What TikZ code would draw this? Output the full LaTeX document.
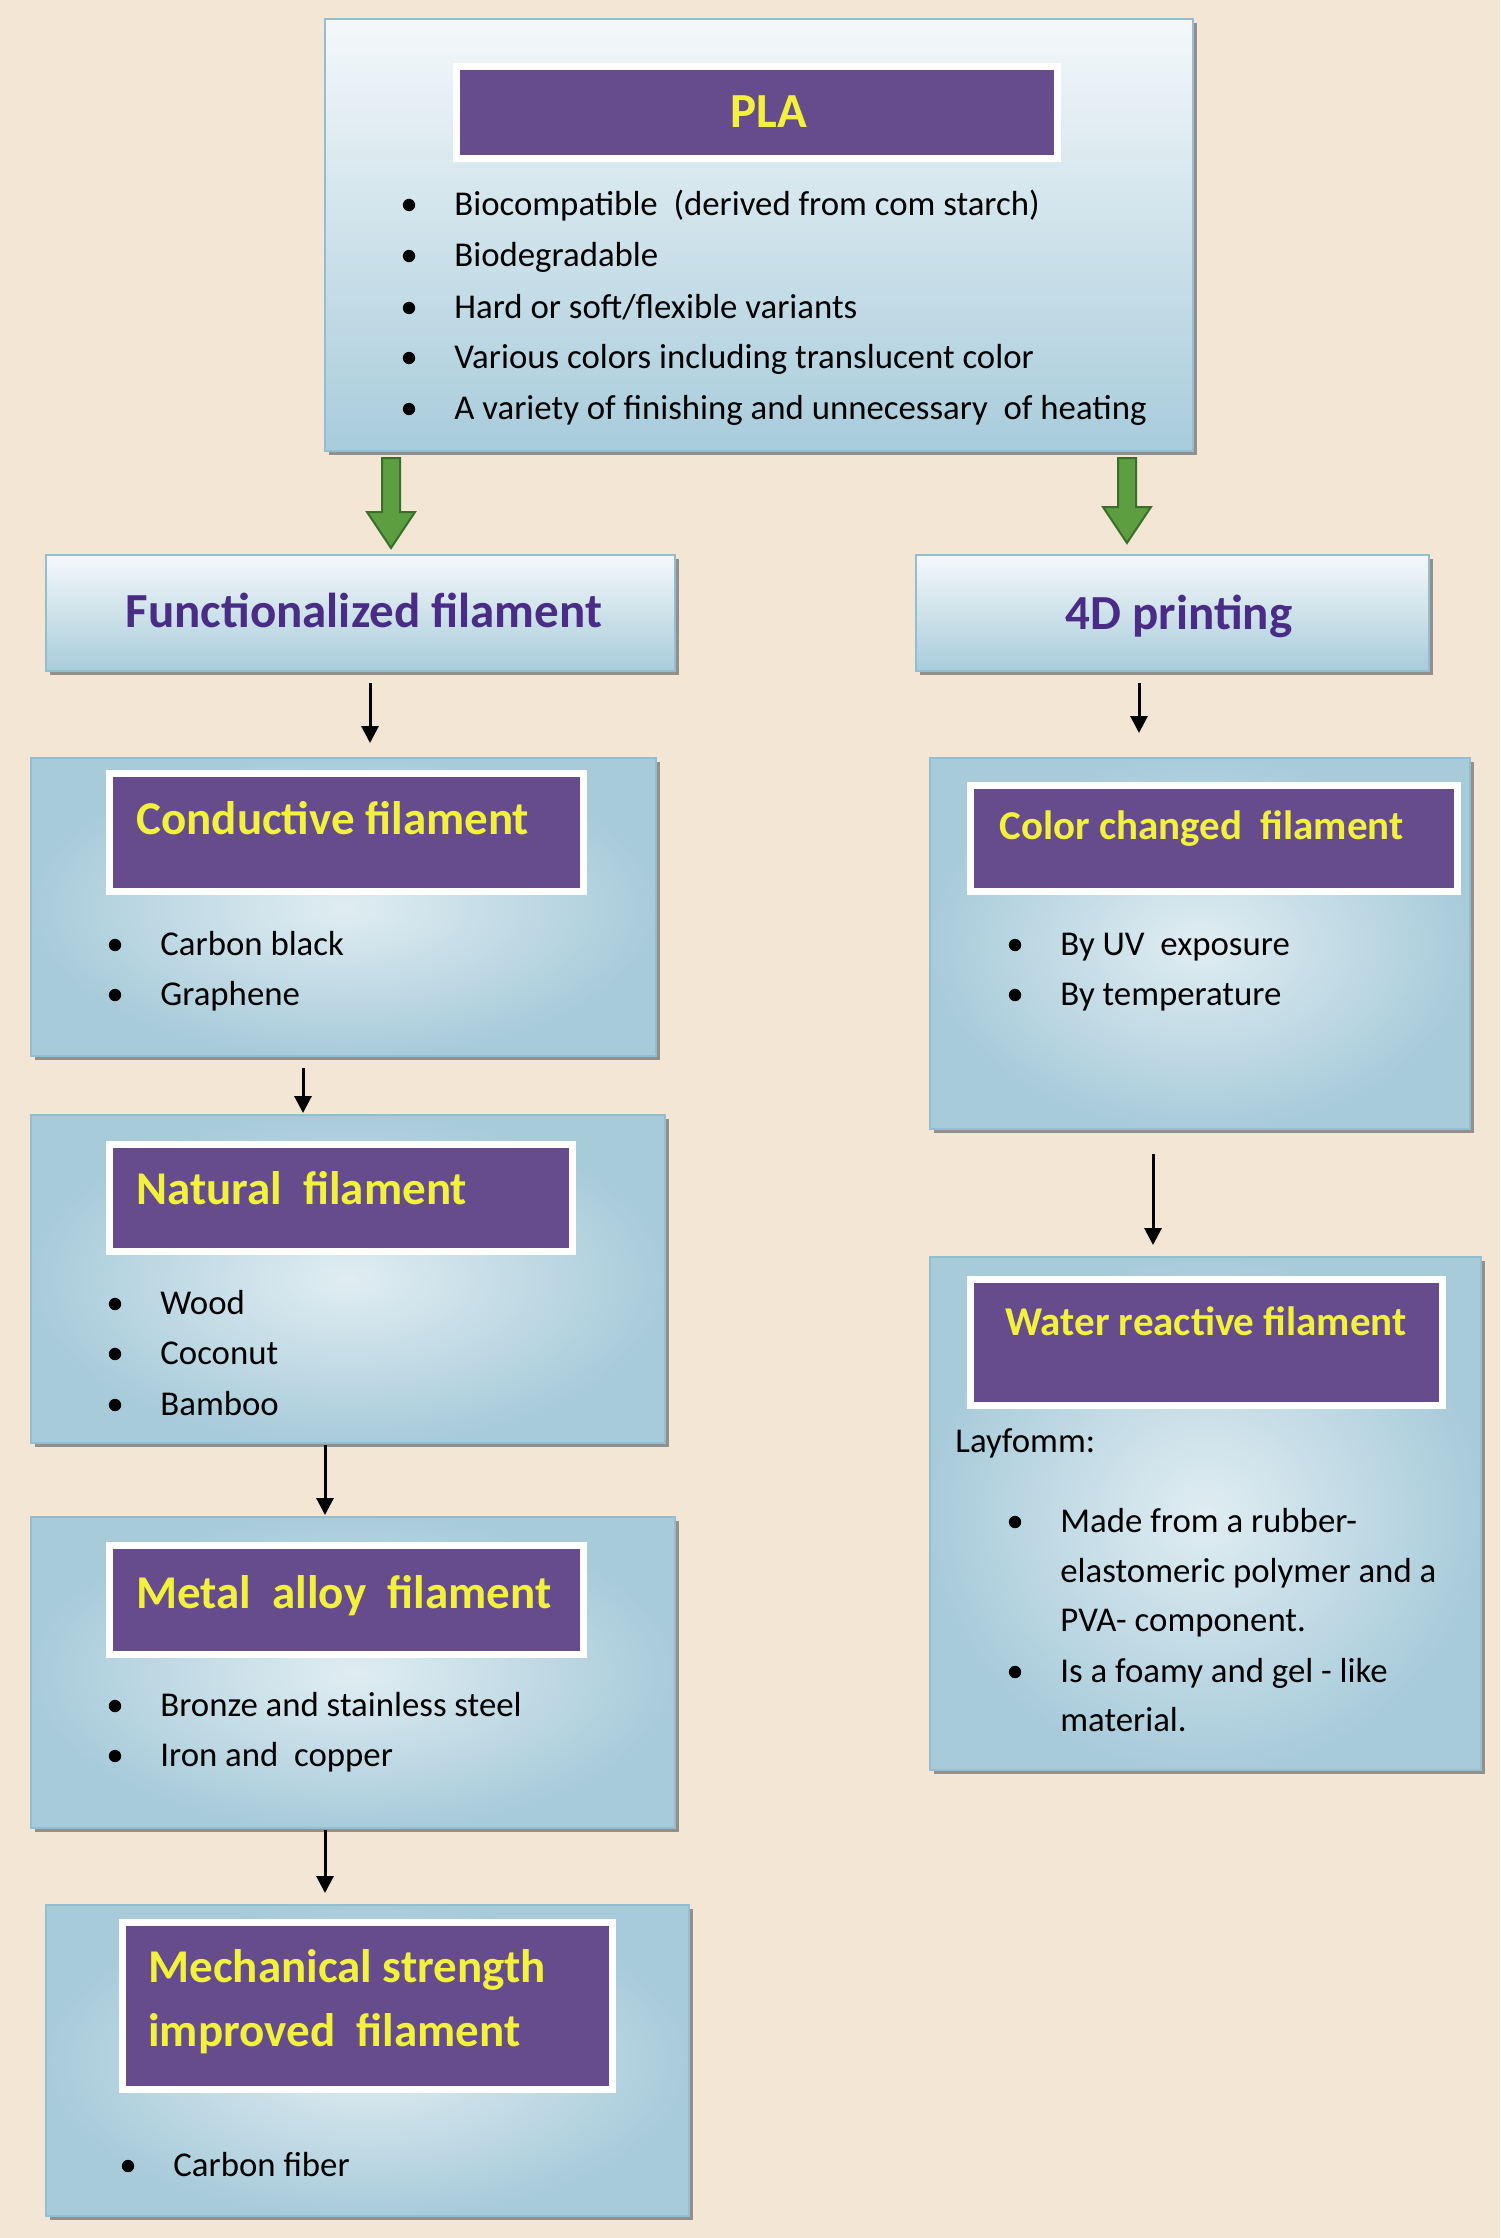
\documentclass[tikz,border=0pt]{standalone}
\usepackage{fontspec}
\setmainfont{Carlito}
\usetikzlibrary{arrows.meta,calc,fit,shadows}
\definecolor{bgc}{HTML}{F3E6D5}
\definecolor{barpurple}{HTML}{664C8D}
\definecolor{ytext}{HTML}{F2F23C}
\definecolor{ptext}{HTML}{4A2C86}
\definecolor{boxedge}{HTML}{93BDD0}
\definecolor{boxtop}{HTML}{F4F8FA}
\definecolor{boxbot}{HTML}{A8CCDB}
\definecolor{boxin}{HTML}{E0EDF2}
\definecolor{boxout}{HTML}{A8CBDA}
\definecolor{gfill}{HTML}{5C9E40}
\definecolor{gedge}{HTML}{3A6E2B}
\newcommand\bitem[4]{%
  \fill (#2-45,#3-10) circle[radius=3.1pt];
  \node[btext] (#1) at (#2,#3) {#4};}
\newcommand\greenarrow[2]{%
  \filldraw[fill=gfill, draw=gedge, line width=1pt, line join=miter]
    ($(#1)+(-9,0)$) -- ($(#2)+(-9,-36)$) -- ($(#2)+(-24,-36)$) -- (#2)
    -- ($(#2)+(24,-36)$) -- ($(#2)+(9,-36)$) -- ($(#1)+(9,0)$) -- cycle;}
\begin{document}
\begin{tikzpicture}[x=0.5pt,y=-0.5pt,
  outerbox/.style={draw=boxedge, line width=1pt, top color=boxtop, bottom color=boxbot,
    inner sep=0pt, drop shadow={shadow xshift=1.8pt, shadow yshift=-1.8pt, opacity=0.75, fill=black!55}},
  subbox/.style={draw=boxedge, line width=1pt, inner color=boxin, outer color=boxout,
    inner sep=0pt, drop shadow={shadow xshift=1.8pt, shadow yshift=-1.8pt, opacity=0.75, fill=black!55}},
  titlebar/.style={fill=barpurple, draw=white, line width=3.5pt, inner sep=0pt,
    drop shadow={shadow xshift=1.8pt, shadow yshift=-1.8pt, opacity=0.6, fill=black!60}},
  btext/.style={anchor=base west, inner sep=0pt, font=\fontsize{17.4}{20}\selectfont},
  ytitle/.style={inner sep=0pt, text=ytext, font=\bfseries\fontsize{23.5}{26}\selectfont},
  ptitle/.style={inner sep=0pt, text=ptext, anchor=base, font=\bfseries\fontsize{24.5}{27}\selectfont},
  barrow/.style={line width=1.5pt, -{Triangle[length=8.5pt,width=8.5pt]}}
]
\fill[bgc] (0,0) rectangle (1500,2238);
\useasboundingbox (0,0) rectangle (1500,2238);

% ---------- PLA ----------
\node[outerbox, fit={(325,19)(1193,451)}] (pla) {};
\node[titlebar, fit={(456,66)(1057,158)}] (plabar) {};
\node[ytitle, anchor=base, font=\bfseries\fontsize{24.5}{27}\selectfont] (platitle) at (769,127) {PLA};
\bitem{pla1}{454}{215}{Biocompatible\ \ (derived from com starch)}
\bitem{pla2}{454}{266}{Biodegradable}
\bitem{pla3}{454}{318}{Hard or soft/flexible variants}
\bitem{pla4}{454}{368}{Various colors including translucent color}
\bitem{pla5}{454}{419}{A variety of finishing and unnecessary\ \ of heating}

% ---------- second level ----------
\node[outerbox, fit={(46,555)(675,671)}] (func) {};
\node[ptitle] (functext) at (364,627) {Functionalized filament};
\node[outerbox, fit={(916,555)(1429,671)}] (fourd) {};
\node[ptitle] (fourdtext) at (1179,629) {4D printing};

\coordinate (xg1) at (391,0);
\coordinate (xg2) at (1127,0);
\coordinate (g1s) at ($(pla.south -| xg1)+(0,6)$);
\coordinate (g1e) at ($(func.north -| xg1)+(0,-6)$);
\coordinate (g2s) at ($(pla.south -| xg2)+(0,6)$);
\coordinate (g2e) at ($(fourd.north -| xg2)+(0,-11)$);
\greenarrow{g1s}{g1e}
\greenarrow{g2s}{g2e}

% ---------- left column ----------
\node[subbox, fit={(31,758)(656,1056)}] (cond) {};
\node[titlebar, fit={(109,773)(583,891)}] (condbar) {};
\node[ytitle, anchor=base west] (condtitle) at (136,834) {Conductive filament};
\bitem{cond1}{160}{955}{Carbon black}
\bitem{cond2}{160}{1005}{Graphene}

\node[subbox, fit={(31,1115)(665,1443)}] (nat) {};
\node[titlebar, fit={(109,1144)(572,1251)}] (natbar) {};
\node[ytitle, anchor=base west] (nattitle) at (136,1204) {Natural\ \ filament};
\bitem{nat1}{160}{1314}{Wood}
\bitem{nat2}{160}{1364}{Coconut}
\bitem{nat3}{160}{1415}{Bamboo}

\node[subbox, fit={(31,1517)(675,1828)}] (metal) {};
\node[titlebar, fit={(109,1545)(583,1654)}] (metalbar) {};
\node[ytitle, anchor=base west] (metaltitle) at (136,1608) {Metal\ \ alloy\ \ filament};
\bitem{metal1}{160}{1716}{Bronze and stainless steel}
\bitem{metal2}{160}{1766}{Iron and\ \ copper}

\node[subbox, fit={(46,1905)(689,2216)}] (mech) {};
\node[titlebar, fit={(122,1922)(612,2089)}] (mechbar) {};
\node[ytitle, anchor=base west] (mechtitle1) at (148,1982) {Mechanical strength};
\node[ytitle, anchor=base west] (mechtitle2) at (148,2046) {improved\ \ filament};
\bitem{mech1}{173}{2176}{Carbon fiber}

% ---------- right column ----------
\node[subbox, fit={(930,758)(1470,1129)}] (color) {};
\node[titlebar, fit={(970,785)(1457,891)}] (colorbar) {};
\node[ytitle, anchor=base west, font=\bfseries\fontsize{20.5}{23}\selectfont] (colortitle) at (999,839) {Color changed\ \ filament};
\bitem{color1}{1060}{955}{By UV\ \ exposure}
\bitem{color2}{1060}{1005}{By temperature}

\node[subbox, fit={(930,1257)(1481,1770)}] (water) {};
\node[titlebar, fit={(970,1279)(1442,1405)}] (waterbar) {};
\node[ytitle, anchor=base, font=\bfseries\fontsize{20.5}{23}\selectfont] (watertitle) at (1206,1335) {Water reactive filament};
\node[btext] (lay) at (955,1452) {Layfomm:};
\bitem{water1}{1060}{1532}{Made from a rubber-}
\node[btext] (water1b) at (1060,1582) {elastomeric polymer and a};
\node[btext] (water1c) at (1060,1631) {PVA- component.};
\bitem{water2}{1060}{1682}{Is a foamy and gel - like}
\node[btext] (water2b) at (1060,1731) {material.};

% ---------- black arrows ----------
\coordinate (xa1) at (370,0);
\coordinate (xa2) at (303,0);
\coordinate (xa3) at (325,0);
\coordinate (xb1) at (1139,0);
\coordinate (xb2) at (1153,0);
\draw[barrow, shorten <=5.5pt, shorten >=7pt] (func.south -| xa1) -- (cond.north -| xa1);
\draw[barrow, shorten <=5.5pt, shorten >=0.5pt] (cond.south -| xa2) -- (nat.north -| xa2);
\draw[barrow, shorten <=0.5pt, shorten >=0.5pt] (nat.south -| xa3) -- (metal.north -| xa3);
\draw[barrow, shorten <=0.5pt, shorten >=5.5pt] (metal.south -| xa3) -- (mech.north -| xa3);
\draw[barrow, shorten <=5.5pt, shorten >=12pt] (fourd.south -| xb1) -- (color.north -| xb1);
\draw[barrow, shorten <=12pt, shorten >=5.5pt] (color.south -| xb2) -- (water.north -| xb2);
\end{tikzpicture}
\end{document}
